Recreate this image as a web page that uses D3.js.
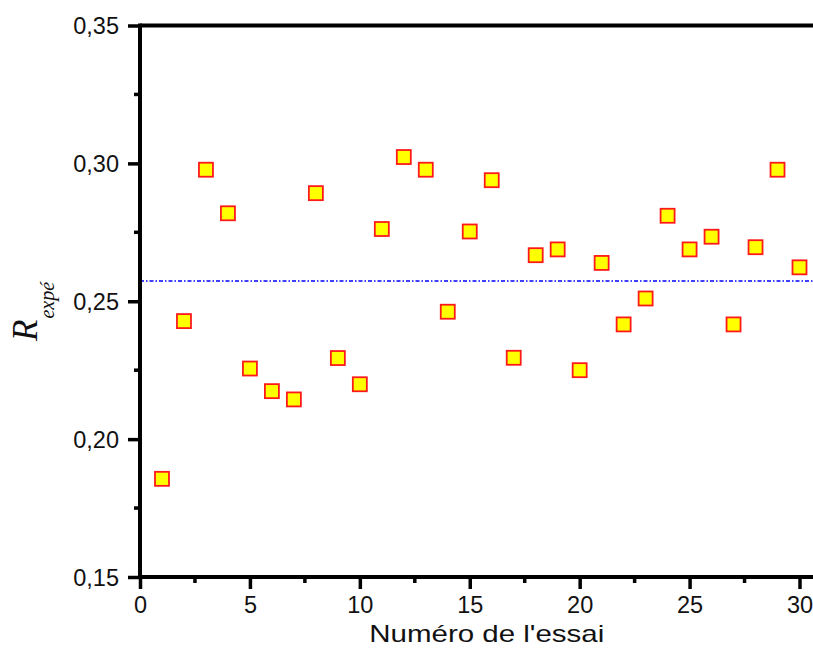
<!DOCTYPE html>
<html>
<head>
<meta charset="utf-8">
<script src="https://cdn.jsdelivr.net/npm/d3@7"></script>
<style>
  html, body { margin: 0; padding: 0; background: #ffffff; }
  svg { display: block; }
</style>
</head>
<body>
<div id="chart"></div>
<script>
// ---- Data ----
const essais = d3.range(1, 31);
const rValues = [
  0.1856, 0.2428, 0.2977, 0.2819, 0.2256, 0.2174, 0.2144, 0.2892, 0.2294, 0.2199,
  0.2762, 0.3023, 0.2977, 0.2462, 0.2753, 0.2939, 0.2295, 0.2667, 0.2688, 0.2250,
  0.2639, 0.2416, 0.2510, 0.2810, 0.2688, 0.2734, 0.2416, 0.2696, 0.2977, 0.2623
];
const meanValue = 0.2573;
const xMajorTicks = [0, 5, 10, 15, 20, 25, 30];
const xMinorTicks = [2.5, 7.5, 12.5, 17.5, 22.5, 27.5];
const yMajorTicks = [0.15, 0.20, 0.25, 0.30, 0.35];
const yMinorTicks = [0.175, 0.225, 0.275, 0.325];
const xTitle = "Numéro de l'essai";

// ---- Layout ----
const W = 813, H = 654;
const svg = d3.select("#chart").append("svg").attr("width", W).attr("height", H);

const x = d3.scaleLinear().domain([0, 30]).range([140, 799.5]);
const y = d3.scaleLinear().domain([0.15, 0.35]).range([577, 25.5]);
const fmt = v => d3.format(".2f")(v).replace(".", ",");

// Top frame line
svg.append("line")
  .attr("x1", x(0)).attr("x2", W + 20)
  .attr("y1", y(0.35)).attr("y2", y(0.35))
  .attr("stroke", "#000").attr("stroke-width", 4);

// Mean dashed line
svg.append("line")
  .attr("x1", x(0)).attr("x2", W + 20)
  .attr("y1", y(meanValue)).attr("y2", y(meanValue))
  .attr("stroke", "#0000ff").attr("stroke-width", 1.5)
  .attr("stroke-dasharray", "4,2,1.5,2");

// Bottom axis
const xExt = d3.scaleLinear().domain([0, 31]).range([x(0), x(31)]);
const gx = svg.append("g").attr("transform", `translate(0,${y(0.15)})`);
gx.call(d3.axisBottom(xExt).tickValues(xMajorTicks).tickSize(12).tickSizeOuter(0).tickFormat(d3.format("d")));
gx.call(g => g.select(".domain").attr("stroke-width", 4).attr("d", `M${x(0) - 2},0H${W + 20}`));
gx.selectAll(".tick line").attr("stroke-width", 3.5);
gx.selectAll(".tick text").attr("font-family", "Liberation Sans, Arial, sans-serif")
  .attr("font-size", 23.5).attr("fill", "#111").attr("y", 19.5);
gx.selectAll(".minor").data(xMinorTicks).enter().append("line")
  .attr("class", "minor").attr("x1", d => x(d)).attr("x2", d => x(d))
  .attr("y1", 0).attr("y2", 6).attr("stroke", "#000").attr("stroke-width", 3.5);

// Left axis
const gy = svg.append("g").attr("transform", `translate(${x(0)},0)`);
gy.call(d3.axisLeft(y).tickValues(yMajorTicks).tickSize(12).tickSizeOuter(0).tickFormat(fmt));
gy.call(g => g.select(".domain").attr("stroke-width", 4).attr("d", `M0,${y(0.35) - 2}V${y(0.15) + 2}`));
gy.selectAll(".tick line").attr("stroke-width", 3.5);
gy.selectAll(".tick text").attr("font-family", "Liberation Sans, Arial, sans-serif")
  .attr("font-size", 23.5).attr("fill", "#111").attr("x", -21).attr("dy", "0.35em");
gy.selectAll(".minor").data(yMinorTicks).enter().append("line")
  .attr("class", "minor").attr("y1", d => y(d)).attr("y2", d => y(d))
  .attr("x1", 0).attr("x2", -6).attr("stroke", "#000").attr("stroke-width", 3.5);

// Points
const size = 14;
svg.append("g").selectAll("rect").data(essais).enter().append("rect")
  .attr("x", (d, i) => x(d) - size / 2)
  .attr("y", (d, i) => y(rValues[i]) - size / 2)
  .attr("width", size).attr("height", size)
  .attr("fill", "#ffff00").attr("stroke", "#ff1a1a").attr("stroke-width", 1.8);

// X title
svg.append("text")
  .attr("x", (x(0) + x(30)) / 2 + 17).attr("y", 642)
  .attr("text-anchor", "middle")
  .attr("font-family", "Liberation Sans, Arial, sans-serif")
  .attr("font-size", 24).attr("fill", "#111")
  .attr("textLength", 235).attr("lengthAdjust", "spacingAndGlyphs")
  .text(xTitle);

// Y title: R with subscript "expé"
const yt = svg.append("text")
  .attr("transform", "translate(37,341) rotate(-90)")
  .attr("font-family", "Liberation Serif, Times New Roman, serif")
  .attr("font-style", "italic").attr("fill", "#111");
yt.append("tspan").attr("font-size", 35).text("R");
yt.append("tspan").attr("font-size", 20).attr("dy", 17).attr("dx", 1).text("expé");
</script>
</body>
</html>
